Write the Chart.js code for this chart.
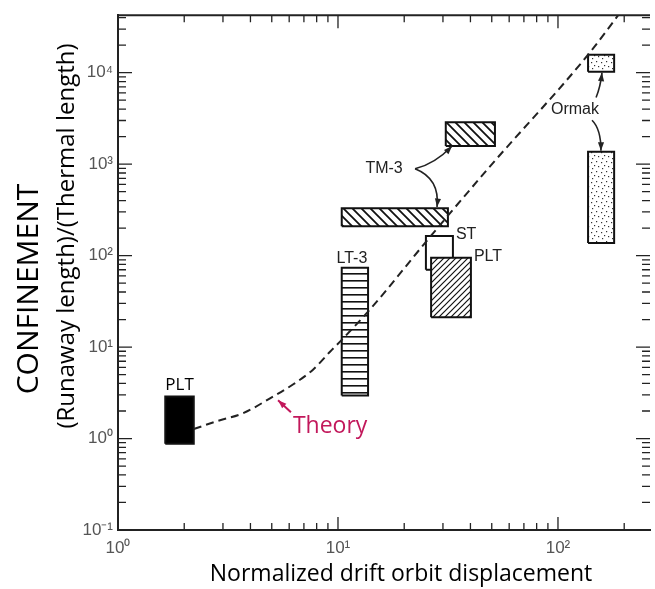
<!DOCTYPE html>
<html>
<head>
<meta charset="utf-8">
<script src="https://cdn.jsdelivr.net/npm/chart.js@4"></script>
<style>
  html, body { margin: 0; padding: 0; background: #fff; }
</style>
</head>
<body>
<canvas id="chart" width="655" height="589"></canvas>
<script>
// experiment boxes: x range and y range (log-log)
const boxX = [[1.64, 2.21], [10.4, 13.7], [10.4, 31.6], [30.9, 51.7], [25.1, 33.3], [26.5, 40.2], [137, 180], [137, 180]];
const boxY = [[0.875, 2.89], [2.96, 73.8], [210, 329], [1581, 2877], [70.2, 164], [21.2, 94.6], [10250, 15660], [137, 1362]];
const boxLabels = ["PLT", "LT-3", "", "", "ST", "PLT", "", ""];
const boxFills = ["solid", "hlines", "back", "back", "white", "fwd", "dots", "dots"];

// theory curve
const theoryX = [2.21, 2.82, 3.70, 4.91, 6.24, 7.70, 9.2, 10.4, 14.0, 26.2, 49, 137, 200];
const theoryY = [1.27, 1.55, 1.89, 2.75, 3.90, 5.66, 8.9, 12.0, 25.9, 160, 940, 15700, 52000];

const xTicks = [1, 10, 100];
const yTicks = [0.1, 1, 10, 100, 1000, 10000];
const xTickLabels = ["10⁰", "10¹", "10²"];
const yTickLabels = ["10⁻¹", "10⁰", "10¹", "10²", "10³", "10⁴"];

// annotations (data coordinates)
const notes = [
  { text: "TM-3", x: 16.2, y: 900 },
  { text: "Ormak", x: 119.5, y: 3980 }
];
const arrows = [
  { color: "#222", pts: [[22.4, 891], [27.6, 1009], [33.0, 1581]] },
  { color: "#222", pts: [[22.4, 891], [29.1, 695], [28.2, 340]] },
  { color: "#222", pts: [[149, 5360], [156, 7000], [158.5, 10000]] },
  { color: "#222", pts: [[142.8, 3020], [157, 2416], [156.8, 1400]] }
];
const theoryNote = { text: "Theory", x: 6.24, y: 1.15, ax: 6.11, ay: 1.94, hx: 5.34, hy: 2.62 };

function pattern(kind) {
  if (kind === "solid") return "#000";
  if (kind === "white") return "#fff";
  const c = document.createElement("canvas");
  const g = c.getContext("2d");
  let s = 9;
  if (kind === "fwd") s = 6;
  if (kind === "hlines") s = 7;
  if (kind === "dots") s = 10;
  c.width = s; c.height = s;
  g.fillStyle = "#fff";
  g.fillRect(0, 0, s, s);
  g.strokeStyle = "#111";
  g.fillStyle = "#333";
  if (kind === "back") {
    g.lineWidth = 1.8;
    g.beginPath();
    g.moveTo(0, 0); g.lineTo(s, s);
    g.moveTo(-2, s - 2); g.lineTo(2, s + 2);
    g.moveTo(s - 2, -2); g.lineTo(s + 2, 2);
    g.stroke();
  } else if (kind === "fwd") {
    g.lineWidth = 1.2;
    g.beginPath();
    g.moveTo(0, s); g.lineTo(s, 0);
    g.moveTo(-2, 2); g.lineTo(2, -2);
    g.moveTo(s - 2, s + 2); g.lineTo(s + 2, s - 2);
    g.stroke();
  } else if (kind === "hlines") {
    g.fillStyle = "#111";
    g.fillRect(0, 0, s, 1.6);
  } else if (kind === "dots") {
    [[1, 2], [6, 1], [4, 5], [8, 6], [2, 8]].forEach(([a, b]) => g.fillRect(a, b, 1.2, 1.2));
  }
  return g.createPattern(c, "repeat");
}

const datasets = [];
datasets.push({
  data: theoryX.map((x, i) => ({ x: x, y: theoryY[i] })),
  borderColor: "#222", borderWidth: 2, borderDash: [8, 5],
  pointRadius: 0, fill: false, cubicInterpolationMode: "monotone", order: 0
});
boxX.forEach((bx, i) => {
  const by = boxY[i];
  datasets.push({
    data: [{ x: bx[0], y: by[1] }, { x: bx[1], y: by[1] }],
    borderWidth: 0, pointRadius: 0, backgroundColor: pattern(boxFills[i]),
    fill: { value: by[0] }, order: 100 - 2 * i
  });
  datasets.push({
    data: [{ x: bx[0], y: by[0] }, { x: bx[1], y: by[0] }, { x: bx[1], y: by[1] }, { x: bx[0], y: by[1] }, { x: bx[0], y: by[0] }],
    borderColor: "#111", borderWidth: 2, pointRadius: 0, fill: false, tension: 0, order: 99 - 2 * i
  });
});

function head(ctx, x0, y0, x1, y1, size) {
  const a = Math.atan2(y1 - y0, x1 - x0);
  ctx.beginPath();
  ctx.moveTo(x1, y1);
  ctx.lineTo(x1 - size * Math.cos(a - 0.35), y1 - size * Math.sin(a - 0.35));
  ctx.lineTo(x1 - size * Math.cos(a + 0.35), y1 - size * Math.sin(a + 0.35));
  ctx.closePath();
  ctx.fill();
}

const decorations = {
  id: "decorations",
  afterDatasetsDraw(chart) {
    const ctx = chart.ctx;
    const xs = chart.scales.x, ys = chart.scales.y;
    const a = chart.chartArea;
    ctx.save();
    ctx.strokeStyle = "#222";
    ctx.lineWidth = 2;
    ctx.beginPath();
    ctx.moveTo(a.left, a.top); ctx.lineTo(a.right, a.top);
    ctx.stroke();

    // inward log ticks on all four sides
    ctx.lineWidth = 1.3;
    ctx.beginPath();
    for (let n = 0; n <= 2; n++) {
      for (let m = 1; m <= 9; m++) {
        const v = m * Math.pow(10, n);
        if (v < xs.min || v > xs.max) continue;
        const p = xs.getPixelForValue(v);
        const len = m === 1 ? 13 : 7;
        ctx.moveTo(p, a.bottom); ctx.lineTo(p, a.bottom - len);
        ctx.moveTo(p, a.top); ctx.lineTo(p, a.top + len);
      }
    }
    for (let n = -1; n <= 4; n++) {
      for (let m = 1; m <= 9; m++) {
        const v = m * Math.pow(10, n);
        if (v < ys.min * 0.999 || v > ys.max) continue;
        const p = ys.getPixelForValue(v);
        const len = m === 1 ? 14 : 8;
        ctx.moveTo(a.left, p); ctx.lineTo(a.left + len, p);
        ctx.moveTo(a.right, p); ctx.lineTo(a.right - len, p);
      }
    }
    ctx.stroke();

    // box labels
    boxX.forEach((bx, i) => {
      const t = boxLabels[i];
      if (!t) return;
      const x0 = xs.getPixelForValue(bx[0]), x1 = xs.getPixelForValue(bx[1]);
      const y1 = ys.getPixelForValue(boxY[i][1]);
      ctx.fillStyle = "#222";
      ctx.textBaseline = "alphabetic";
      if (i === 0) {
        ctx.font = '17px "Open Sans"';
        ctx.fillStyle = "#000";
        ctx.textAlign = "center";
        ctx.fillText(t, (x0 + x1) / 2, y1 - 6);
      } else if (i === 1) {
        ctx.font = '16px "Liberation Sans"';
        ctx.textAlign = "center";
        ctx.fillText(t, (x0 + x1) / 2 - 3, y1 - 5);
      } else {
        ctx.font = '16px "Liberation Sans"';
        ctx.textAlign = "left";
        ctx.fillText(t, x1 + 3, y1 + 3);
      }
    });

    ctx.font = '16px "Liberation Sans"';
    ctx.fillStyle = "#222";
    ctx.textAlign = "center";
    ctx.textBaseline = "middle";
    notes.forEach(n => ctx.fillText(n.text, ys ? xs.getPixelForValue(n.x) : 0, ys.getPixelForValue(n.y)));

    ctx.lineWidth = 1.6;
    arrows.forEach(ar => {
      const p = ar.pts.map(q => [xs.getPixelForValue(q[0]), ys.getPixelForValue(q[1])]);
      ctx.strokeStyle = ar.color; ctx.fillStyle = ar.color;
      ctx.beginPath();
      ctx.moveTo(p[0][0], p[0][1]);
      ctx.quadraticCurveTo(p[1][0], p[1][1], p[2][0], p[2][1]);
      ctx.stroke();
      head(ctx, p[1][0], p[1][1], p[2][0], p[2][1], 9);
    });

    // theory label and arrow
    const tc = "#c2185b";
    ctx.strokeStyle = tc; ctx.fillStyle = tc;
    const ax = xs.getPixelForValue(theoryNote.ax), ay = ys.getPixelForValue(theoryNote.ay);
    const hx = xs.getPixelForValue(theoryNote.hx), hy = ys.getPixelForValue(theoryNote.hy);
    ctx.lineWidth = 2;
    ctx.beginPath(); ctx.moveTo(ax, ay); ctx.lineTo(hx, hy); ctx.stroke();
    head(ctx, ax, ay, hx, hy, 9);
    ctx.font = '23px "Open Sans"';
    ctx.textAlign = "left";
    ctx.textBaseline = "alphabetic";
    ctx.fillText(theoryNote.text, xs.getPixelForValue(theoryNote.x), ys.getPixelForValue(theoryNote.y));

    // axis titles
    ctx.fillStyle = "#000";
    ctx.textAlign = "center";
    ctx.font = '23px "Open Sans"';
    ctx.fillText("Normalized drift orbit displacement", 401, 581);
    ctx.save();
    ctx.translate(38, 289);
    ctx.rotate(-Math.PI / 2);
    ctx.font = '30px "Open Sans"';
    ctx.fillText("CONFINEMENT", 0, 0);
    ctx.restore();
    ctx.save();
    ctx.translate(74, 236);
    ctx.rotate(-Math.PI / 2);
    ctx.font = '24px "Open Sans"';
    ctx.fillText("(Runaway length)/(Thermal length)", 0, 0);
    ctx.restore();
    ctx.restore();
  }
};

new Chart(document.getElementById("chart"), {
  type: "line",
  data: { datasets: datasets },
  plugins: [decorations],
  options: {
    responsive: false,
    animation: false,
    layout: { padding: { top: 10, right: 5, left: 0, bottom: 0 } },
    plugins: { legend: { display: false }, tooltip: { enabled: false } },
    scales: {
      x: {
        type: "logarithmic", min: 1, max: 262,
        grid: { display: false, drawTicks: false },
        border: { display: true, color: "#222", width: 2 },
        afterBuildTicks: s => { s.ticks = xTicks.map(v => ({ value: v })); },
        afterFit: s => { s.height = 59; },
        ticks: {
          autoSkip: false, maxRotation: 0, padding: 8, color: "#555",
          font: { family: "Liberation Sans", size: 17 },
          callback: (v, i) => xTickLabels[i]
        }
      },
      y: {
        type: "logarithmic", min: 0.1, max: 42500,
        grid: { display: false, drawTicks: false },
        border: { display: true, color: "#222", width: 2 },
        afterBuildTicks: s => { s.ticks = yTicks.map(v => ({ value: v })); },
        afterFit: s => { s.width = 118; },
        ticks: {
          autoSkip: false, padding: 5, color: "#555",
          font: { family: "Liberation Sans", size: 17 },
          callback: (v, i) => yTickLabels[i]
        }
      }
    }
  }
});
</script>
</body>
</html>
